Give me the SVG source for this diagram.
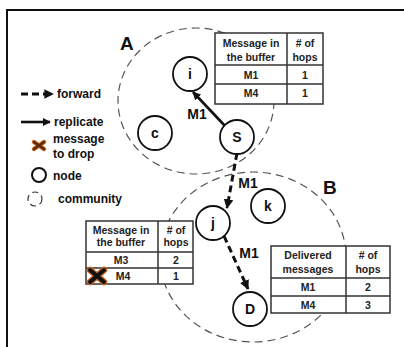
<svg xmlns="http://www.w3.org/2000/svg" width="404" height="347" viewBox="0 0 404 347">
  <style>
    text { font-family: "Liberation Sans", Arial, sans-serif; font-weight: bold; fill: #111; }
    .lg { font-size: 12px; }
    .nl { font-size: 14px; text-anchor: middle; }
    .big { font-size: 19px; }
    .tb { font-size: 10.5px; text-anchor: middle; fill: #222; }
    .comm { fill: none; stroke: #555; stroke-width: 1.2; stroke-dasharray: 8 5; }
    .node { fill: #fff; stroke: #111; stroke-width: 1.8; }
    .grid { fill: #fff; stroke: #333; stroke-width: 1.5; }
    .gl { stroke: #333; stroke-width: 1.5; }
    .solid { stroke: #111; stroke-width: 2.6; fill: none; }
    .dash { stroke: #111; stroke-width: 3; fill: none; stroke-dasharray: 7 4; }
  </style>
  <defs>
    <marker id="head" viewBox="0 0 10 10" refX="9" refY="5" markerWidth="3.2" markerHeight="3.2" orient="auto" markerUnits="strokeWidth">
      <path d="M0,0 L10,5 L0,10 z" fill="#111"/>
    </marker>
  </defs>

  <rect width="404" height="347" fill="#fff"/>
  <!-- frame -->
  <path d="M7,347 V10 H404" fill="none" stroke="#111" stroke-width="2"/>

  <!-- communities -->
  <g id="community-A">
    <ellipse class="comm" cx="196" cy="101" rx="78" ry="73"/>
    <text class="big" x="120" y="50">A</text>
  </g>
  <g id="community-B">
    <ellipse class="comm" cx="253" cy="257" rx="93" ry="85"/>
    <text class="big" x="323" y="194">B</text>
  </g>

  <!-- legend -->
  <g id="legend">
    <line class="dash" x1="21" y1="94" x2="53" y2="94" stroke-width="2.6" marker-end="url(#head)"/>
    <text class="lg" x="57" y="98">forward</text>
    <line class="solid" x1="21" y1="122" x2="50" y2="122" marker-end="url(#head)"/>
    <text class="lg" x="54" y="126">replicate</text>
    <g stroke-linecap="round">
      <path d="M34,142 L44,149 M44,142 L34,149" stroke="#c8621e" stroke-width="4.5"/>
      <path d="M34,142 L44,149 M44,142 L34,149" stroke="#5a2a0a" stroke-width="2.2"/>
    </g>
    <text class="lg" x="53" y="143">message</text>
    <text class="lg" x="53" y="158">to drop</text>
    <circle cx="39" cy="175" r="7" fill="none" stroke="#111" stroke-width="2"/>
    <text class="lg" x="53" y="180">node</text>
    <circle cx="35" cy="199" r="7" fill="none" stroke="#333" stroke-width="1.2" stroke-dasharray="6 4"/>
    <text class="lg" x="58" y="203">community</text>
  </g>

  <!-- connectors -->
  <g id="connectors">
    <line class="solid" x1="226" y1="127" x2="193" y2="92" marker-end="url(#head)"/>
    <text class="nl" x="197" y="119">M1</text>
    <line class="dash" x1="237" y1="153" x2="227" y2="208" marker-end="url(#head)"/>
    <text class="nl" x="248" y="188">M1</text>
    <line class="dash" x1="224" y1="236" x2="248" y2="289" marker-end="url(#head)"/>
    <text class="nl" x="249" y="258">M1</text>
  </g>

  <!-- nodes -->
  <g id="node-i"><circle class="node" cx="190" cy="74" r="17"/><text class="nl" x="190" y="79">i</text></g>
  <g id="node-c"><circle class="node" cx="155" cy="133" r="17"/><text class="nl" x="155" y="138">c</text></g>
  <g id="node-S"><circle class="node" cx="237" cy="137" r="17"/><text class="nl" x="237" y="142">S</text></g>
  <g id="node-k"><circle class="node" cx="268" cy="206" r="17"/><text class="nl" x="268" y="211">k</text></g>
  <g id="node-j"><circle class="node" cx="213" cy="223" r="17"/><text class="nl" x="213" y="228">j</text></g>
  <g id="node-D"><circle class="node" cx="250" cy="309" r="17"/><text class="nl" x="250" y="314">D</text></g>

  <!-- buffer of S -->
  <g id="table-S">
    <rect class="grid" x="215" y="33" width="108" height="71"/>
    <line class="gl" x1="287" y1="33" x2="287" y2="104"/>
    <line class="gl" x1="215" y1="65" x2="323" y2="65"/>
    <line class="gl" x1="215" y1="84" x2="323" y2="84"/>
    <text class="tb" x="251" y="47">Message in</text>
    <text class="tb" x="251" y="61">the buffer</text>
    <text class="tb" x="305" y="47"># of</text>
    <text class="tb" x="305" y="61">hops</text>
    <text class="tb" x="251" y="79">M1</text>
    <text class="tb" x="305" y="79">1</text>
    <text class="tb" x="251" y="97">M4</text>
    <text class="tb" x="305" y="97">1</text>
  </g>

  <!-- buffer of j -->
  <g id="table-j">
    <rect class="grid" x="86" y="221" width="107" height="63"/>
    <line class="gl" x1="158" y1="221" x2="158" y2="284"/>
    <line class="gl" x1="86" y1="252" x2="193" y2="252"/>
    <line class="gl" x1="86" y1="268" x2="193" y2="268"/>
    <text class="tb" x="121" y="234">Message in</text>
    <text class="tb" x="121" y="246">the buffer</text>
    <text class="tb" x="176" y="234"># of</text>
    <text class="tb" x="176" y="246">hops</text>
    <text class="tb" x="121" y="264">M3</text>
    <text class="tb" x="176" y="264">2</text>
    <text class="tb" x="123" y="280">M4</text>
    <text class="tb" x="176" y="280">1</text>
    <g stroke-linecap="round">
      <path d="M90,270 L104,282 M104,270 L90,282" stroke="#c8621e" stroke-width="6.5"/>
      <path d="M90,270 L104,282 M104,270 L90,282" stroke="#111" stroke-width="4"/>
    </g>
  </g>

  <!-- delivered at D -->
  <g id="table-D">
    <rect class="grid" x="271" y="246" width="119" height="67"/>
    <line class="gl" x1="346" y1="246" x2="346" y2="313"/>
    <line class="gl" x1="271" y1="278" x2="390" y2="278"/>
    <line class="gl" x1="271" y1="296" x2="390" y2="296"/>
    <text class="tb" x="308" y="259">Delivered</text>
    <text class="tb" x="308" y="273">messages</text>
    <text class="tb" x="368" y="259"># of</text>
    <text class="tb" x="368" y="273">hops</text>
    <text class="tb" x="308" y="291">M1</text>
    <text class="tb" x="368" y="291">2</text>
    <text class="tb" x="308" y="309">M4</text>
    <text class="tb" x="368" y="309">3</text>
  </g>
</svg>
